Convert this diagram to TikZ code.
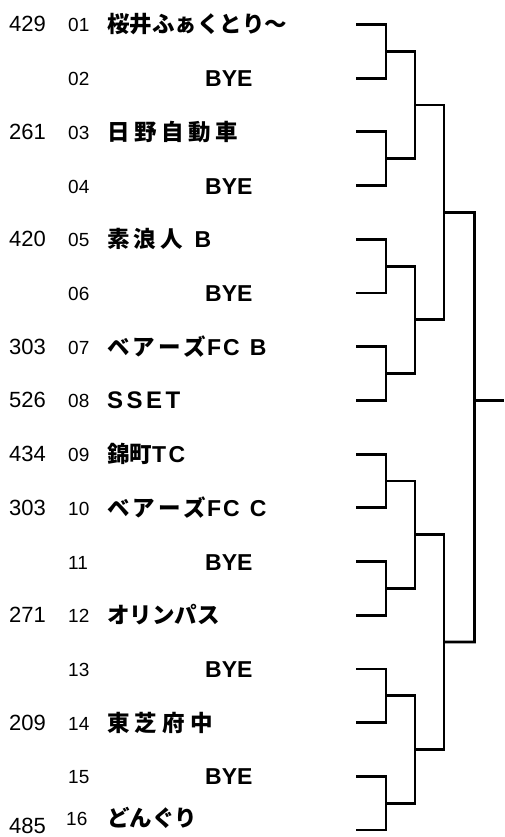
\documentclass[tikz,border=0pt]{standalone}
\usepackage{fontspec}
\setmainfont{Liberation Sans}
\newfontfamily\jp{Noto Sans CJK JP}
\newfontfamily\lat{Liberation Sans}
\newcommand{\LB}[1]{{\lat\bfseries\fontsize{23}{23}\selectfont #1}}
\newcommand{\LBB}[1]{{\lat\bfseries\fontsize{24}{24}\selectfont #1}}
\begin{document}
\begin{tikzpicture}[x=1pt,y=-1pt,
  seedtxt/.style={anchor=base west,inner sep=0pt,font=\lat\fontsize{22}{22}\selectfont},
  numtxt/.style={anchor=base west,inner sep=0pt,font=\lat\fontsize{19}{19}\selectfont},
  nametxt/.style={anchor=base west,inner sep=0pt,font=\jp\bfseries\fontsize{22.5}{22.5}\selectfont},
  byetxt/.style={anchor=base west,inner sep=0pt,font=\lat\bfseries\fontsize{23}{23}\selectfont},
  bracket/.style={line width=2.8pt,line join=miter,line cap=butt}]
\useasboundingbox (0,0) rectangle (504,837);
% entry line ends
\foreach \i in {1,...,16}{
  \pgfmathsetmacro{\yy}{24.5+53.7*(\i-1)}
  \coordinate (L\i) at (356,\yy);
}
% round joins
\foreach \k in {1,...,8}{
  \pgfmathsetmacro{\yy}{24.5+53.7*(2*\k-2)+26.85}
  \coordinate (A\k) at (386,\yy);
}
\foreach \k in {1,...,4}{
  \pgfmathsetmacro{\yy}{24.5+53.7*(4*\k-4)+80.55}
  \coordinate (B\k) at (415,\yy);
}
\foreach \k in {1,2}{
  \pgfmathsetmacro{\yy}{24.5+53.7*(8*\k-8)+187.95}
  \coordinate (C\k) at (444,\yy);
}
\coordinate (Dtop) at (474.5,212.45);
\coordinate (Dbot) at (474.5,642.05);
\coordinate (Dmid) at (474.5,400.4);
\coordinate (W) at (504,400.4);

\foreach \k [evaluate=\k as \a using int(2*\k-1), evaluate=\k as \b using int(2*\k)] in {1,...,8}{
  \draw[bracket] (L\a) -| (A\k) |- (L\b);
}
\foreach \k [evaluate=\k as \a using int(2*\k-1), evaluate=\k as \b using int(2*\k)] in {1,...,4}{
  \draw[bracket] (A\a) -| (B\k) |- (A\b);
}
\foreach \k [evaluate=\k as \a using int(2*\k-1), evaluate=\k as \b using int(2*\k)] in {1,2}{
  \draw[bracket] (B\a) -| (C\k) |- (B\b);
}
\draw[bracket] (C1) -- (Dtop) -- (Dbot) -- (C2);
\draw[bracket] (Dmid) -- (W);

% seeds (left numbers)
\node[seedtxt] (s1) at (9,32) {429};
\node[seedtxt] (s3) at (9,139.4) {261};
\node[seedtxt] (s5) at (9,246.8) {420};
\node[seedtxt] (s7) at (9,354.2) {303};
\node[seedtxt] (s8) at (9,407.9) {526};
\node[seedtxt] (s9) at (9,461.6) {434};
\node[seedtxt] (s10) at (9,515.3) {303};
\node[seedtxt] (s12) at (9,622.7) {271};
\node[seedtxt] (s14) at (9,730.1) {209};
\node[seedtxt] (s16) at (9,833) {485};

% draw numbers
\foreach \i/\t in {1/01,2/02,3/03,4/04,5/05,6/06,7/07,8/08,9/09,10/10,11/11,12/12,13/13,14/14,15/15}{
  \pgfmathsetmacro{\yy}{24.5+53.7*(\i-1)+7.5}
  \node[numtxt] (n\i) at (68,\yy) {\t};
}
\node[numtxt] (n16) at (66,825) {16};

% names
\node[nametxt] (t1) at (107,33) {桜井ふぁくとり～};
\node[nametxt] (t3) at (107,140.4) {日\kern4.6pt 野\kern4.6pt 自\kern4.6pt 動\kern4.6pt 車};
\node[nametxt] (t5) at (107,247.8) {素\kern4pt 浪\kern4pt 人\kern12pt\LB{B}};
\node[nametxt] (t7) at (107,355.2) {ベ\kern3pt ア\kern3pt ー\kern3pt ズ\kern1pt\LB{F\kern2pt C\kern10pt B}};
\node[nametxt] (t8) at (107,408.9) {\LBB{S\kern3.5pt S\kern3.5pt E\kern3.5pt T}};
\node[nametxt] (t9) at (107,462.6) {錦町\LB{T\kern2.5pt C}};
\node[nametxt] (t10) at (107,516.3) {ベ\kern3pt ア\kern3pt ー\kern3pt ズ\kern1pt\LB{F\kern2pt C\kern10pt C}};
\node[nametxt] (t12) at (107,623.7) {オリンパス};
\node[nametxt] (t14) at (107,731.1) {東\kern5.3pt 芝\kern5.3pt 府\kern5.3pt 中};
\node[nametxt] (t16) at (107,826) {どんぐり};

\foreach \i in {2,4,6,11,13,15}{
  \pgfmathsetmacro{\yy}{24.5+53.7*(\i-1)+8.5}
  \node[byetxt] (b\i) at (205,\yy) {BYE};
}
\end{tikzpicture}
\end{document}
